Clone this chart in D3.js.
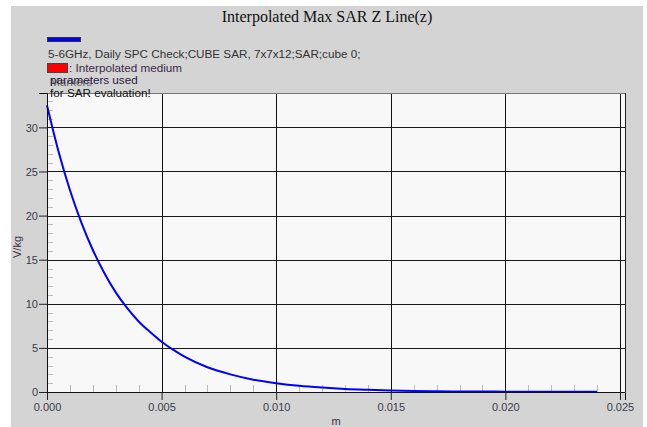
<!DOCTYPE html>
<html><head><meta charset="utf-8">
<script src="https://cdn.jsdelivr.net/npm/d3@7"></script>
<style>body{margin:0;background:#fff}svg{display:block}</style>
</head><body>
<svg id="c" width="647" height="427"></svg>
<script>
const title = "Interpolated Max SAR Z Line(z)";
const seriesName = "5-6GHz, Daily SPC Check;CUBE SAR, 7x7x12;SAR;cube 0;";
const zValues = [0,0.0005,0.001,0.0015,0.002,0.0025,0.003,0.0035,0.004,0.0045,0.005,0.0055,0.006,0.007,0.008,0.009,0.010,0.011,0.012,0.013,0.014,0.015,0.016,0.017,0.018,0.019,0.020,0.021,0.022,0.023,0.024];
const sarValues = [32.5,27.3,22.9,19.2,16.1,13.5,11.3,9.5,8.0,6.8,5.7,4.8,4.0,2.8,2.0,1.4,1.0,0.7,0.5,0.35,0.25,0.17,0.12,0.09,0.06,0.05,0.04,0.03,0.03,0.02,0.02];
const xTicks = [0,0.005,0.010,0.015,0.020,0.025];
const yTicks = [0,5,10,15,20,25,30];
const xMinor = d3.range(0,0.0245,0.001);
const yMinor = d3.range(0,34,1);

const svg = d3.select("#c");
svg.append("rect").attr("x",11).attr("y",6).attr("width",632).attr("height",421).attr("fill","#d4d4d4");

const x = d3.scaleLinear().domain([0,0.02522]).range([47,625]);
const y = d3.scaleLinear().domain([0,33.9]).range([392,93]);

svg.append("rect").attr("x",47).attr("y",93).attr("width",578).attr("height",299).attr("fill","#f8f8f8");

svg.append("text").attr("x",327).attr("y",22).attr("text-anchor","middle")
  .attr("font-family","Liberation Serif").attr("font-size",16).attr("fill","#111").text(title);

// minor ticks
const g = svg.append("g");
g.selectAll(".ym").data(yMinor).join("line")
  .attr("x1",47).attr("x2",53).attr("y1",d=>Math.round(y(d))+0.5).attr("y2",d=>Math.round(y(d))+0.5)
  .attr("stroke","#bbb");
g.selectAll(".xm").data(xMinor).join("line")
  .attr("y1",392).attr("y2",385).attr("x1",d=>Math.round(x(d))+0.5).attr("x2",d=>Math.round(x(d))+0.5)
  .attr("stroke","#bbb");

// grid
g.selectAll(".yg").data(yTicks.slice(1)).join("line")
  .attr("x1",47).attr("x2",625).attr("y1",d=>Math.round(y(d))+0.5).attr("y2",d=>Math.round(y(d))+0.5)
  .attr("stroke","#1a1a1a");
g.selectAll(".xg").data(xTicks.slice(1)).join("line")
  .attr("y1",93).attr("y2",392).attr("x1",d=>Math.round(x(d))+0.5).attr("x2",d=>Math.round(x(d))+0.5)
  .attr("stroke","#111");

// curve
const line = d3.line().x((d,i)=>x(zValues[i])).y(d=>y(d)).curve(d3.curveMonotoneX);
svg.append("path").datum(sarValues).attr("d",line).attr("fill","none")
  .attr("stroke","#0000ff").attr("stroke-width",2);

// frame
svg.append("line").attr("x1",47).attr("x2",626).attr("y1",93.5).attr("y2",93.5).attr("stroke","#777");
svg.append("line").attr("x1",625.5).attr("x2",625.5).attr("y1",93).attr("y2",392).attr("stroke","#222");

// axes
const xa = svg.append("g").attr("transform","translate(0,392)")
  .call(d3.axisBottom(x).tickValues(xTicks).tickFormat(d3.format(".3f")).tickSizeOuter(0).tickSize(8));
const ya = svg.append("g").attr("transform","translate(47,0)")
  .call(d3.axisLeft(y).tickValues(yTicks).tickFormat(d3.format("d")).tickSizeOuter(0).tickSize(8));
[xa,ya].forEach(a=>{
  a.select(".domain").attr("stroke","#111");
  a.selectAll(".tick line").attr("stroke","#222");
  a.selectAll("text").attr("font-family","Liberation Sans").attr("font-size",11).attr("fill","#3c3c48");
});
xa.selectAll("text").attr("dy","0.71em").attr("y",11);
ya.selectAll("text").attr("x",-9).attr("dy","0.35em");

// axis titles
svg.append("text").attr("transform","translate(21,247) rotate(-90)").attr("text-anchor","middle")
  .attr("font-family","Liberation Sans").attr("font-size",11).attr("fill","#3c2a4a").text("V/kg");
svg.append("text").attr("x",336).attr("y",425).attr("text-anchor","middle")
  .attr("font-family","Liberation Sans").attr("font-size",11).attr("fill","#3c2a4a").text("m");

// legend
const lf = 11.7;
svg.append("rect").attr("x",47.5).attr("y",37.5).attr("width",33).attr("height",4).attr("fill","#0000ff").attr("stroke","#333");
svg.append("text").attr("x",48).attr("y",58).attr("font-family","Liberation Sans").attr("font-size",lf).attr("fill","#333").text(seriesName);
svg.append("rect").attr("x",47.5).attr("y",63.5).attr("width",20).attr("height",9).attr("fill","#ff0000").attr("stroke","#444");
svg.append("text").attr("x",69).attr("y",72).attr("font-family","Liberation Sans").attr("font-size",lf).attr("fill","#3a2a48").text(": Interpolated medium");
svg.append("text").attr("x",50).attr("y",86).attr("font-family","Liberation Sans").attr("font-size",lf).attr("fill","#666").text("Markers");
svg.append("text").attr("x",50).attr("y",84).attr("font-family","Liberation Sans").attr("font-size",lf).attr("fill","#2a1a40").text("parameters used");
svg.append("text").attr("x",50).attr("y",97).attr("font-family","Liberation Sans").attr("font-size",lf).attr("fill","#111").text("for SAR evaluation!");
</script>
</body></html>
